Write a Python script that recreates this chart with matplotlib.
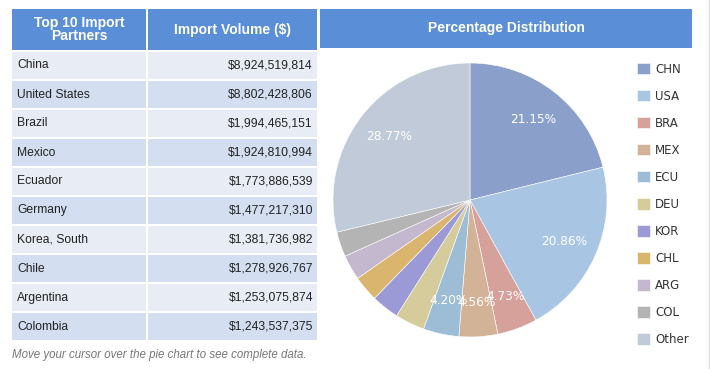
import matplotlib
matplotlib.use('Agg')
import matplotlib.pyplot as plt
from matplotlib.patches import Rectangle

countries = ['China', 'United States', 'Brazil', 'Mexico', 'Ecuador', 'Germany',
             'Korea, South', 'Chile', 'Argentina', 'Colombia']
codes = ['CHN', 'USA', 'BRA', 'MEX', 'ECU', 'DEU', 'KOR', 'CHL', 'ARG', 'COL', 'Other']
volumes = [8924519814, 8802428806, 1994465151, 1924810994, 1773886539, 1477217310,
           1381736982, 1278926767, 1253075874, 1243537375]
other_volume = 12141000000  # rest of world, ~28.77% of total
colors = ['#8a9fca', '#a8c6e4', '#d6a19a', '#d3b397', '#9cbdd5', '#d6cb9a',
          '#9c9ad6', '#d9b56d', '#c4b8ce', '#b4b4b4', '#c0cad8']

W, H = 710, 369
fig = plt.figure(figsize=(W / 100, H / 100), dpi=100)
bg = fig.add_axes([0, 0, 1, 1])
bg.set_xlim(0, W)
bg.set_ylim(H, 0)
bg.axis('off')

font = 'Liberation Sans'
head_col = '#5a8ed6'

# table header
bg.add_patch(Rectangle((12, 9), 134, 41, color=head_col, lw=0))
bg.add_patch(Rectangle((148, 9), 169, 41, color=head_col, lw=0))
bg.text(79, 29.5, 'Top 10 Import\nPartners', ha='center', va='center', color='white',
        fontsize=10, fontweight='bold', family=font, linespacing=0.95)
bg.text(232, 30, 'Import Volume ($)', ha='center', va='center', color='white',
        fontsize=10, fontweight='bold', family=font)

# table rows
row_h = 29
for i, (c, v) in enumerate(zip(countries, volumes)):
    y0 = 51 + i * row_h
    fc = '#e8edf5' if i % 2 == 0 else '#d3dff0'
    bg.add_patch(Rectangle((12, y0 + 1), 134, row_h - 2, color=fc, lw=0))
    bg.add_patch(Rectangle((148, y0 + 1), 169, row_h - 2, color=fc, lw=0))
    bg.text(17, y0 + row_h / 2, c, ha='left', va='center', fontsize=8.7,
            family=font, color='#222222')
    bg.text(313, y0 + row_h / 2, '${:,}'.format(v), ha='right', va='center',
            fontsize=8.7, family=font, color='#222222')

bg.text(12, 355, 'Move your cursor over the pie chart to see complete data.',
        ha='left', va='center', fontsize=8.3, style='italic', family=font, color='#777777')

# pie header
bg.add_patch(Rectangle((320, 9), 372, 39, color=head_col, lw=0))
bg.text(506, 28, 'Percentage Distribution', ha='center', va='center', color='white',
        fontsize=10, fontweight='bold', family=font)
bg.plot([708.5, 708.5], [0, H], color='#d8dde6', lw=1)

# pie
cx, cy, r = 470, 200, 137
ax = fig.add_axes([(cx - r) / W, (H - cy - r) / H, 2 * r / W, 2 * r / H])
values = volumes + [other_volume]

def fmt(p):
    return '{:.2f}%'.format(p) if p >= 4 else ''

wedges, _, autotexts = ax.pie(values, colors=colors, startangle=90, counterclock=False,
                              autopct=fmt, pctdistance=0.75, radius=1,
                              wedgeprops=dict(edgecolor='white', linewidth=0.4))
for t in autotexts:
    t.set_color('white')
    t.set_fontsize(8.7)
ax.set_xlim(-1, 1)
ax.set_ylim(-1, 1)
ax.set_aspect('equal')

leg = fig.legend(wedges, codes, loc='upper left', bbox_to_anchor=(626 / W, 1 - 52 / H),
                 frameon=False, fontsize=8.5, handlelength=1.1, handleheight=1.1,
                 handletextpad=0.45, labelspacing=1.19)
for t in leg.get_texts():
    t.set_color('#333333')

fig.savefig('out.png', dpi=100)
